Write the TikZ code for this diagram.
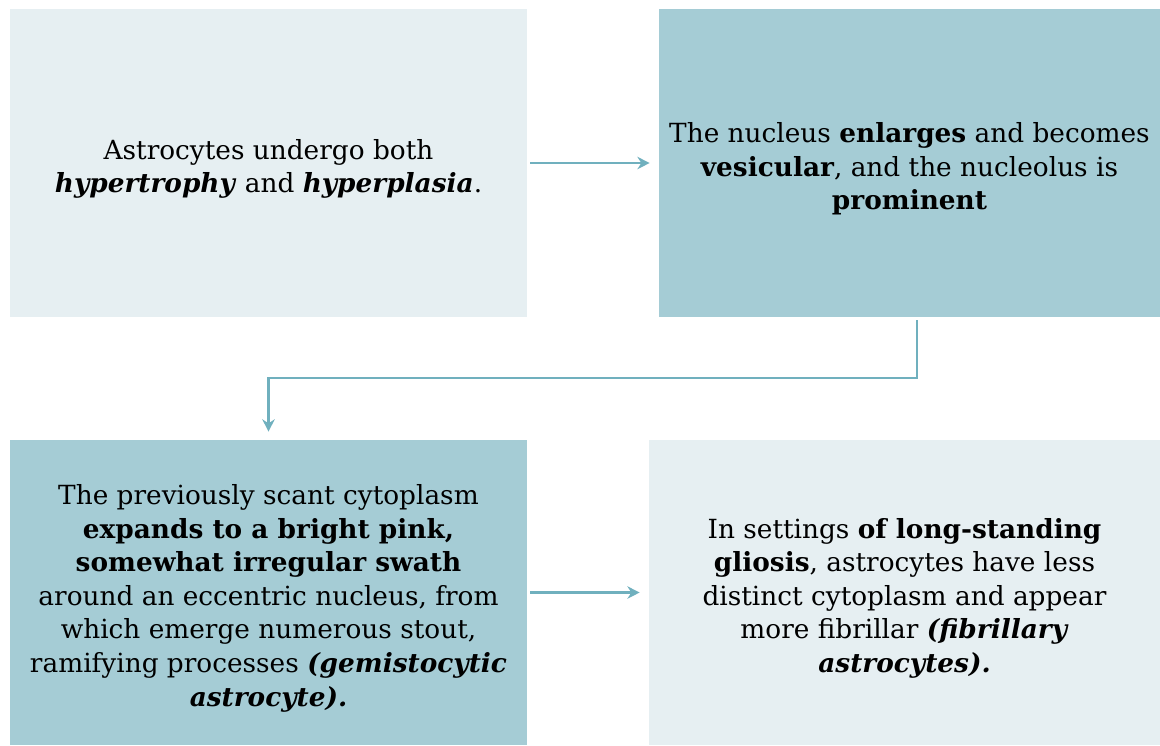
\documentclass[tikz,border=0pt]{standalone}
\usepackage{fontspec}
\setmainfont{DejaVu Serif}
\usepackage{tikz}
\usetikzlibrary{arrows.meta, positioning}
\usepackage{xcolor}
\definecolor{boxlight}{HTML}{E6EFF2}
\definecolor{boxdark}{HTML}{A5CCD5}
\definecolor{linkblue}{HTML}{70B0BE}
\newcommand{\lift}{\rule{0pt}{18pt}}

\begin{document}
\begin{tikzpicture}[x=0.02cm, y=-0.02cm,
  card/.style={rectangle, draw=none, align=center, inner sep=0pt,
               font=\fontsize{15}{19.1}\selectfont},
  link/.style={-{Stealth[length=7pt, width=7pt]}, line width=1.3pt, linkblue}
]
  \useasboundingbox (0,0) rectangle (1160,745);
  \node[card, fill=boxlight, minimum width=10.34cm, minimum height=6.16cm] (hyper) at (268.5,163)
    {\lift Astrocytes undergo both\\\textbf{\textit{hypertrophy}} and \textbf{\textit{hyperplasia}}.};
  \node[card, fill=boxdark, minimum width=10.02cm, minimum height=6.16cm] (nucleus) at (909.5,163)
    {\lift The nucleus \textbf{enlarges} and becomes\\\textbf{vesicular}, and the nucleolus is\\\textbf{prominent}};
  \node[card, fill=boxdark, minimum width=10.34cm, minimum height=6.1cm] (gemi) at (268.5,592.5)
    {\lift The previously scant cytoplasm\\\textbf{expands to a bright pink,}\\\textbf{somewhat irregular swath}\\around an eccentric nucleus, from\\which emerge numerous stout,\\ramifying processes \textbf{\textit{(gemistocytic}}\\\textbf{\textit{astrocyte).}}};
  \node[card, fill=boxlight, minimum width=10.22cm, minimum height=6.1cm] (fibril) at (904.5,592.5)
    {\lift In settings \textbf{of long-standing}\\\textbf{gliosis}, astrocytes have less\\distinct cytoplasm and appear\\more fibrillar \textbf{\textit{(fibrillary}}\\\textbf{\textit{astrocytes).}}};

  \draw[link, shorten <=0.06cm, shorten >=0.18cm] (hyper) -- (nucleus);
  \draw[link, shorten <=0.06cm, shorten >=0.16cm] ([xshift=0.15cm]nucleus.south) -- ++(0,61) -| (gemi.north);
  \draw[link, shorten <=0.06cm, shorten >=0.18cm] (gemi) -- (fibril);
\end{tikzpicture}
\end{document}
